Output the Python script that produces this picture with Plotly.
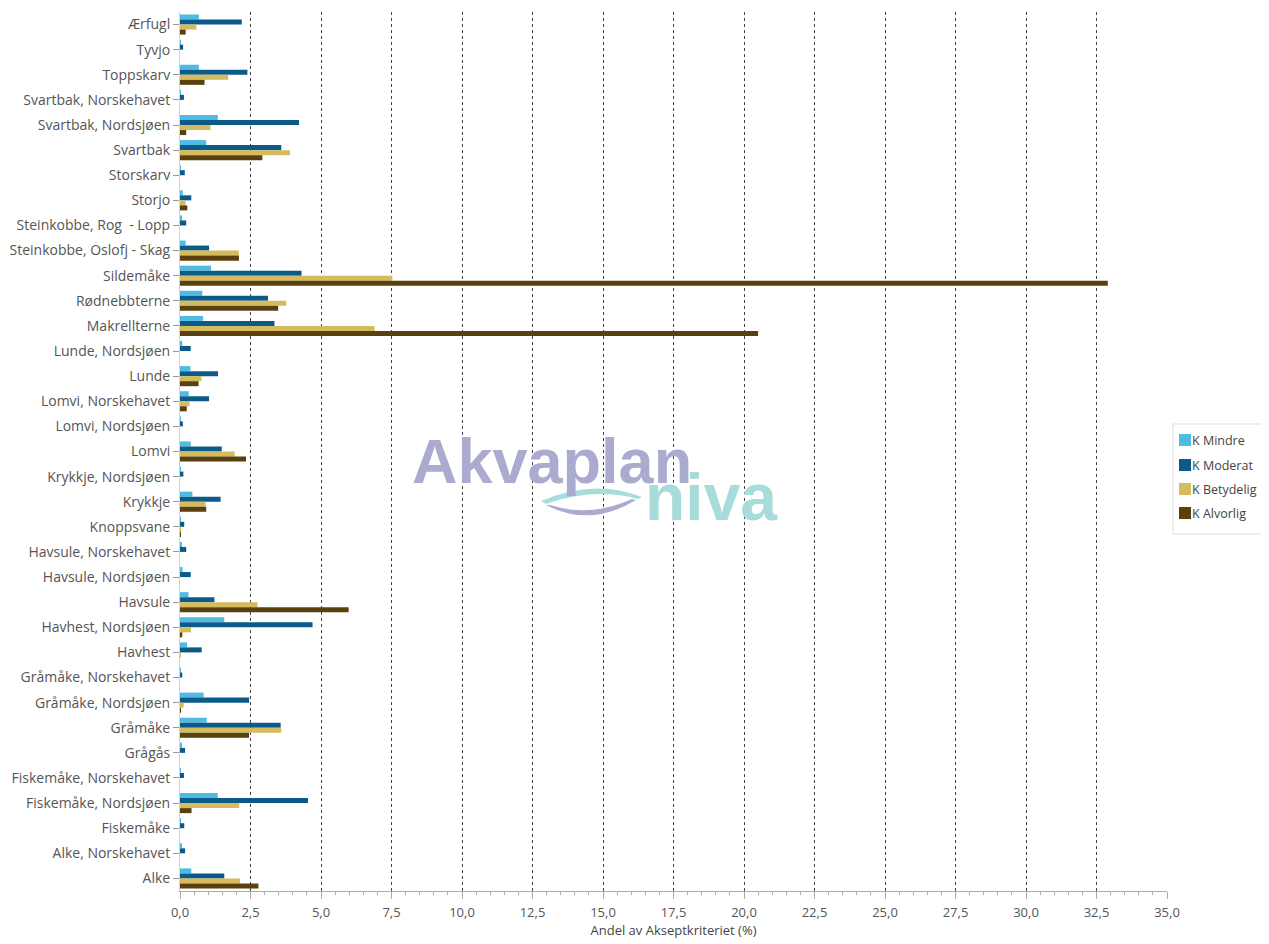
import plotly.graph_objects as go

categories = [
    "Ærfugl", "Tyvjo", "Toppskarv", "Svartbak, Norskehavet", "Svartbak, Nordsjøen",
    "Svartbak", "Storskarv", "Storjo", "Steinkobbe, Rog  - Lopp", "Steinkobbe, Oslofj - Skag",
    "Sildemåke", "Rødnebbterne", "Makrellterne", "Lunde, Nordsjøen", "Lunde",
    "Lomvi, Norskehavet", "Lomvi, Nordsjøen", "Lomvi", "Krykkje, Nordsjøen", "Krykkje",
    "Knoppsvane", "Havsule, Norskehavet", "Havsule, Nordsjøen", "Havsule", "Havhest, Nordsjøen",
    "Havhest", "Gråmåke, Norskehavet", "Gråmåke, Nordsjøen", "Gråmåke", "Grågås",
    "Fiskemåke, Norskehavet", "Fiskemåke, Nordsjøen", "Fiskemåke", "Alke, Norskehavet", "Alke",
]

k_mindre = [0.67, 0.03, 0.67, 0.03, 1.34, 0.93, 0.03, 0.10, 0.04, 0.20,
            1.10, 0.79, 0.82, 0.08, 0.37, 0.31, 0.03, 0.38, 0.03, 0.44,
            0.03, 0.05, 0.09, 0.30, 1.57, 0.25, 0.03, 0.84, 0.95, 0.04,
            0.03, 1.34, 0.03, 0.06, 0.40]
k_moderat = [2.19, 0.11, 2.39, 0.14, 4.22, 3.59, 0.17, 0.40, 0.22, 1.03,
             4.31, 3.12, 3.35, 0.38, 1.35, 1.03, 0.10, 1.48, 0.12, 1.44,
             0.15, 0.22, 0.38, 1.22, 4.70, 0.77, 0.08, 2.45, 3.57, 0.18,
             0.14, 4.54, 0.15, 0.18, 1.57]
k_betydelig = [0.58, 0.0, 1.71, 0.0, 1.08, 3.90, 0.0, 0.20, 0.0, 2.08,
               7.53, 3.77, 6.90, 0.0, 0.76, 0.34, 0.0, 1.94, 0.0, 0.91,
               0.03, 0.0, 0.0, 2.75, 0.39, 0.02, 0.0, 0.13, 3.59, 0.0,
               0.0, 2.10, 0.0, 0.0, 2.13]
k_alvorlig = [0.20, 0.0, 0.87, 0.0, 0.22, 2.92, 0.0, 0.26, 0.0, 2.09,
              32.9, 3.48, 20.5, 0.0, 0.66, 0.24, 0.0, 2.34, 0.0, 0.93,
              0.02, 0.0, 0.0, 5.98, 0.08, 0.0, 0.0, 0.01, 2.45, 0.0,
              0.0, 0.41, 0.0, 0.0, 2.78]

series_names = ["K Mindre", "K Moderat", "K Betydelig", "K Alvorlig"]
series_values = [k_mindre, k_moderat, k_betydelig, k_alvorlig]
series_colors = ["#4FBBE2", "#0C5A88", "#D6BA5E", "#5A400F"]

# page has an 8px body margin; figure sized to end exactly at the viewport edge
OFF = 8
W, H = 1269 - OFF, 944 - OFF
ML, MR, MT, MB = 172, 102, 4, 53
PW, PH = W - ML - MR, H - MT - MB


def px(x, y):
    """page pixel -> paper coordinates"""
    return (x - OFF - ML) / PW, (H - MB - (y - OFF)) / PH


fig = go.Figure()
for name, vals, col in zip(series_names, series_values, series_colors):
    fig.add_trace(go.Bar(
        y=categories, x=vals, name=name, orientation="h", showlegend=False,
        marker=dict(color=col, line=dict(width=0)),
    ))


def path(points):
    s = ""
    for cmd, pts in points:
        s += cmd + " " + " ".join("%.4f,%.4f" % px(*p) for p in pts) + " "
    return s + "Z"

teal = path([("M", [(541, 501)]), ("Q", [(595, 478), (642, 497)]),
             ("L", [(638, 499)]), ("Q", [(595, 487), (546, 504)])])
lav = path([("M", [(546, 505)]), ("Q", [(590, 528), (636, 500)]),
            ("L", [(632, 499)]), ("Q", [(590, 518), (550, 505)])])

shapes = [
    dict(type="path", xref="paper", yref="paper", path=teal,
         fillcolor="#A8DCDA", line=dict(width=0), layer="above"),
    dict(type="path", xref="paper", yref="paper", path=lav,
         fillcolor="#ABABD0", line=dict(width=0), layer="above"),
]

logo_font = "Liberation Sans, Arial, sans-serif"
ax, ay = px(552, 461)
nx, ny = px(711, 497)
annotations = [
    dict(x=ax, y=ay, xref="paper", yref="paper", text="<b>Akvaplan</b>", showarrow=False,
         font=dict(family=logo_font, size=63, color="#ABABD0"),
         xanchor="center", yanchor="middle"),
    dict(x=nx, y=ny, xref="paper", yref="paper", text="<b>niva</b>", showarrow=False,
         font=dict(family=logo_font, size=66, color="#A8DCDA"),
         xanchor="center", yanchor="middle"),
]

# legend box (drawn as layout shapes + text so it fits like the original)
bx0, by0 = px(1173, 424)
bx1, by1 = px(1280, 534)
shapes.append(dict(type="rect", xref="paper", yref="paper", x0=bx0, y0=by1, x1=bx1, y1=by0,
                   line=dict(color="#DDDDDD", width=1), fillcolor="white", layer="above"))
legend_y = [440, 465, 489, 513]
for name, col, yy in zip(series_names, series_colors, legend_y):
    sx0, sy0 = px(1179, yy - 6)
    sx1, sy1 = px(1191, yy + 6)
    shapes.append(dict(type="rect", xref="paper", yref="paper", x0=sx0, y0=sy1, x1=sx1, y1=sy0,
                       line=dict(width=0), fillcolor=col, layer="above"))
    tx, ty = px(1191, yy)
    annotations.append(dict(x=tx, y=ty, xref="paper", yref="paper", text=name, showarrow=False,
                            xanchor="left", yanchor="middle", borderpad=0,
                            font=dict(size=12.5, color="#444444")))

fig.update_layout(
    width=W, height=H,
    margin=dict(l=ML, r=MR, t=MT, b=MB, autoexpand=False),
    paper_bgcolor="white", plot_bgcolor="white",
    barmode="group", bargap=0.2, bargroupgap=0.0,
    separators=", ",
    showlegend=False,
    font=dict(family="Open Sans, Noto Sans, sans-serif", size=12, color="#555555"),
    xaxis=dict(
        range=[0, 35], dtick=2.5, tick0=0, tickformat=".1f",
        showgrid=True, gridcolor="#444444", griddash="dot", gridwidth=1,
        zeroline=False, showline=True, linecolor="#AAAAAA", linewidth=1,
        ticks="outside", ticklen=7, tickcolor="#AAAAAA", ticklabelstandoff=2,
        minor=dict(dtick=0.5, ticks="outside", ticklen=3, tickcolor="#AAAAAA", showgrid=False),
        tickfont=dict(size=13, color="#555555"),
        title=dict(text="Andel av Akseptkriteriet (%)", font=dict(size=13, color="#444444"), standoff=6),
        automargin=False,
    ),
    yaxis=dict(
        autorange="reversed", type="category",
        showgrid=False, zeroline=False,
        showline=True, linecolor="#C9D6E0", linewidth=1,
        ticks="outside", ticklen=6, tickcolor="#999999",
        tickfont=dict(size=14, color="#555555"),
        automargin=False,
    ),
    shapes=shapes,
    annotations=annotations,
)

fig.write_html("out.html")
